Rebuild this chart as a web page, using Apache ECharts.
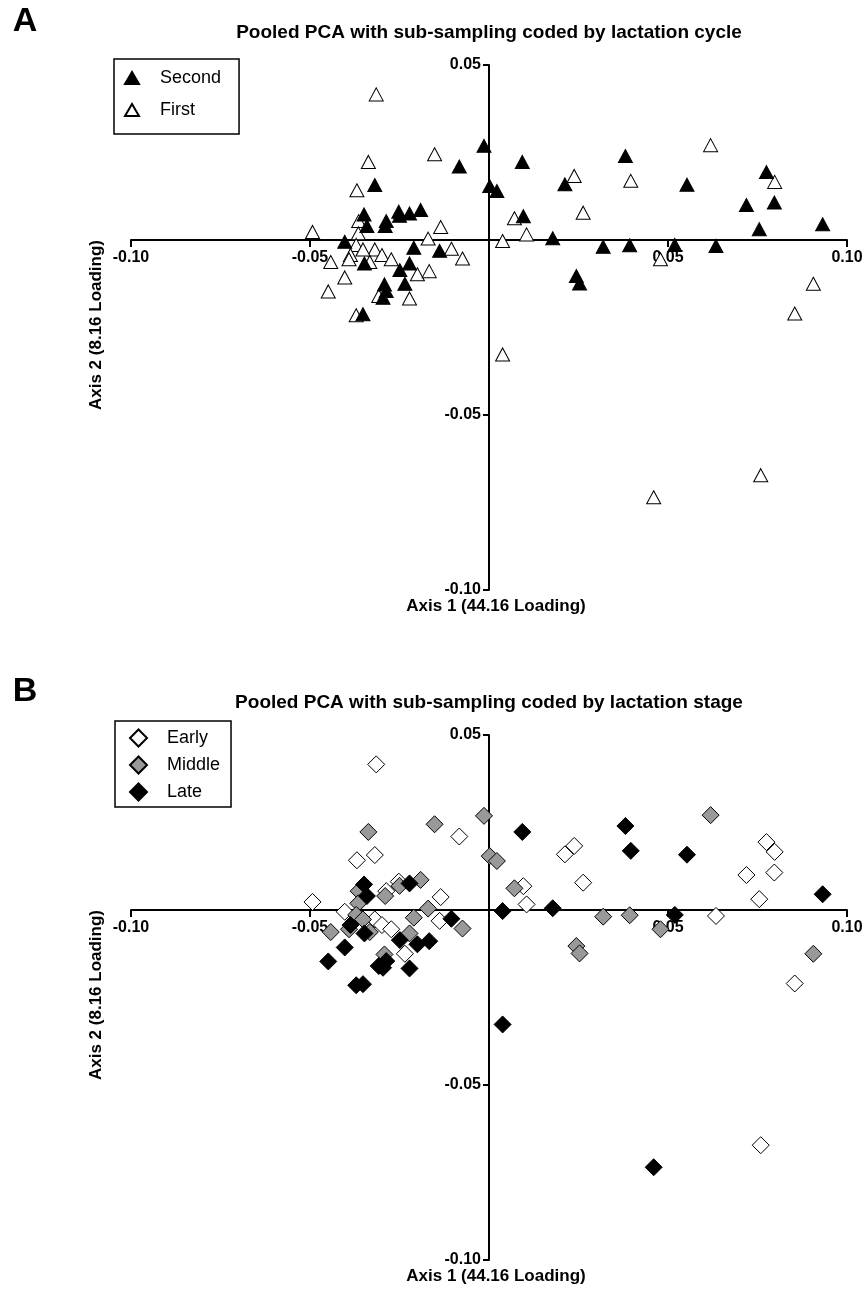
<!DOCTYPE html>
<html>
<head>
<meta charset="utf-8">
<script src="https://cdn.jsdelivr.net/npm/echarts@6/dist/echarts.min.js"></script>
<style>html,body{margin:0;padding:0;background:#fff}#main{width:867px;height:1297px}</style>
</head>
<body>
<div id="main"></div>
<script>
// PCA scores, same samples in both panels
var pcX = [-0.0315,-0.0337,-0.0152,-0.0014,-0.0083,-0.0319,-0.0369,0.0002,0.0022,-0.0349,
  -0.0364,-0.0341,-0.0287,-0.0290,-0.0250,-0.0252,-0.0222,-0.0191,-0.0135,-0.0493,
  -0.0403,-0.0365,-0.0371,-0.0170,-0.0319,-0.0352,-0.0210,-0.0138,-0.0105,-0.0387,
  -0.0391,-0.0442,-0.0299,-0.0273,-0.0074,-0.0348,-0.0333,-0.0222,-0.0249,-0.0200,
  -0.0167,-0.0403,-0.0235,-0.0292,-0.0287,-0.0296,-0.0308,-0.0449,-0.0222,-0.0371,
  -0.0352,0.0093,0.0381,0.0238,0.0212,0.0396,0.0553,0.0071,0.0096,0.0263,
  0.0038,0.0105,0.0178,0.0319,0.0393,0.0519,0.0479,0.0244,0.0253,0.0619,
  0.0775,0.0798,0.0719,0.0797,0.0755,0.0932,0.0634,0.0906,0.0854,0.0038,
  0.0460,0.0759];
var pcY = [0.0416,0.0223,0.0245,0.0269,0.0210,0.0157,0.0142,0.0154,0.0140,0.0073,
  0.0054,0.0040,0.0054,0.0040,0.0069,0.0081,0.0076,0.0086,0.0037,0.0023,
  -0.0005,0.0019,-0.0014,0.0004,-0.0027,-0.0027,-0.0022,-0.0031,-0.0025,-0.0043,
  -0.0055,-0.0063,-0.0043,-0.0055,-0.0053,-0.0067,-0.0063,-0.0067,-0.0086,-0.0098,
  -0.0089,-0.0107,-0.0125,-0.0127,-0.0146,-0.0165,-0.0160,-0.0147,-0.0167,-0.0215,
  -0.0212,0.0223,0.0240,0.0183,0.0159,0.0169,0.0158,0.0062,0.0068,0.0078,
  -0.0003,0.0016,0.0005,-0.0019,-0.0015,-0.0014,-0.0055,-0.0103,-0.0124,0.0271,
  0.0194,0.0166,0.0100,0.0107,0.0031,0.0045,-0.0017,-0.0125,-0.0210,-0.0327,
  -0.0735,-0.0672];
// lactation cycle: S = second, F = first
var cycle = ['F','F','F','S','S','S','F','S','S','S',
  'F','S','S','S','S','S','S','S','F','F',
  'S','F','F','F','F','F','S','S','F','F',
  'F','F','F','F','F','S','F','S','S','F',
  'F','F','S','S','S','S','F','F','F','F',
  'S','S','S','F','S','F','S','F','S','F',
  'F','F','S','S','S','S','F','S','S','F',
  'S','F','S','S','S','S','S','F','F','F',
  'F','F'];
// lactation stage: E = early, M = middle, L = late
var stage = ['E','M','M','M','E','E','E','M','M','L',
  'M','L','E','M','M','E','L','M','E','E',
  'E','M','M','M','E','M','M','E','L','L',
  'M','M','E','E','M','L','M','M','L','L',
  'L','L','E','M','L','L','L','L','L','L',
  'L','L','L','E','E','L','L','M','E','E',
  'L','E','L','M','M','L','M','M','M','M',
  'E','E','E','E','E','L','E','M','E','L',
  'L','E'];

var FONT = '"Liberation Sans", Arial, sans-serif';

function pick(codes, code) {
  var out = [];
  for (var i = 0; i < codes.length; i++) {
    if (codes[i] === code) out.push([pcX[i], pcY[i]]);
  }
  return out;
}

function tickFmt(v) {
  return Math.abs(v) < 1e-9 ? '' : v.toFixed(2);
}

// axes cross at the origin: shift them in from the grid edge
function xAx(g) {
  return {
    gridIndex: g, type: 'value', min: -0.1, max: 0.1, interval: 0.05,
    position: 'bottom', offset: -350,
    axisLine: { onZero: false, lineStyle: { color: '#000', width: 2 } },
    axisTick: { length: 7, lineStyle: { color: '#000', width: 2 } },
    axisLabel: { formatter: tickFmt, color: '#000', fontWeight: 'bold', fontSize: 16, fontFamily: FONT, margin: 10 },
    splitLine: { show: false }
  };
}
function yAx(g) {
  return {
    gridIndex: g, type: 'value', min: -0.1, max: 0.05, interval: 0.05,
    position: 'left', offset: -358,
    axisLine: { onZero: false, lineStyle: { color: '#000', width: 2 } },
    axisTick: { length: 6, lineStyle: { color: '#000', width: 2 } },
    axisLabel: { formatter: tickFmt, color: '#000', fontWeight: 'bold', fontSize: 16, fontFamily: FONT, margin: 8 },
    splitLine: { show: false }
  };
}

function txt(x, y, s, font, rot) {
  return {
    type: 'text', x: x, y: y, rotation: rot || 0,
    style: { text: s, x: 0, y: 0, font: font, fill: '#000', textAlign: 'center', textVerticalAlign: 'middle', verticalAlign: 'middle' }
  };
}

var dom = document.getElementById('main');
var myChart = echarts.init(dom, null, { renderer: 'canvas' });

var option = {
  animation: false,
  backgroundColor: '#fff',
  grid: [
    { left: 131, top: 65, width: 716, height: 525, outerBoundsMode: 'none', containLabel: false },
    { left: 131, top: 735, width: 716, height: 525, outerBoundsMode: 'none', containLabel: false }
  ],
  xAxis: [xAx(0), xAx(1)],
  yAxis: [yAx(0), yAx(1)],
  legend: [
    {
      data: ['Second', 'First'], orient: 'vertical', left: 114, top: 59,
      padding: [9, 18, 14, 10], itemGap: 12, itemWidth: 14, itemHeight: 12,
      borderColor: '#000', borderWidth: 1.5, selectedMode: false,
      textStyle: { fontSize: 18, fontFamily: FONT, color: '#000', lineHeight: 20, padding: [0, 0, 0, 16] }
    },
    {
      data: ['Early', 'Middle', 'Late'], orient: 'vertical', left: 115, top: 721,
      padding: [7, 11, 5, 14], itemGap: 7, itemWidth: 17, itemHeight: 17,
      borderColor: '#000', borderWidth: 1.5, selectedMode: false,
      textStyle: { fontSize: 18, fontFamily: FONT, color: '#000', lineHeight: 20, padding: [0, 0, 0, 15] }
    }
  ],
  graphic: [
    txt(25, 22, 'A', 'bold 34px ' + FONT),
    txt(489, 33, 'Pooled PCA with sub-sampling coded by lactation cycle', 'bold 19px ' + FONT),
    txt(96, 325, 'Axis 2 (8.16 Loading)', 'bold 17px ' + FONT, Math.PI / 2),
    txt(496, 606, 'Axis 1 (44.16 Loading)', 'bold 17px ' + FONT),
    txt(25, 692, 'B', 'bold 34px ' + FONT),
    txt(489, 703, 'Pooled PCA with sub-sampling coded by lactation stage', 'bold 19px ' + FONT),
    txt(96, 995, 'Axis 2 (8.16 Loading)', 'bold 17px ' + FONT, Math.PI / 2),
    txt(496, 1276, 'Axis 1 (44.16 Loading)', 'bold 17px ' + FONT)
  ],
  series: [
    { name: 'First', type: 'scatter', xAxisIndex: 0, yAxisIndex: 0, symbol: 'triangle', symbolSize: [14, 13],
      itemStyle: { color: '#fff', borderColor: '#000', borderWidth: 1, opacity: 1 }, data: pick(cycle, 'F') },
    { name: 'Second', type: 'scatter', xAxisIndex: 0, yAxisIndex: 0, symbol: 'triangle', symbolSize: [14, 13],
      itemStyle: { color: '#000', borderColor: '#000', borderWidth: 1, opacity: 1 }, data: pick(cycle, 'S') },
    { name: 'Early', type: 'scatter', xAxisIndex: 1, yAxisIndex: 1, symbol: 'diamond', symbolSize: [17, 17],
      itemStyle: { color: '#fff', borderColor: '#000', borderWidth: 1, opacity: 1 }, data: pick(stage, 'E') },
    { name: 'Middle', type: 'scatter', xAxisIndex: 1, yAxisIndex: 1, symbol: 'diamond', symbolSize: [17, 17],
      itemStyle: { color: '#999999', borderColor: '#000', borderWidth: 1, opacity: 1 }, data: pick(stage, 'M') },
    { name: 'Late', type: 'scatter', xAxisIndex: 1, yAxisIndex: 1, symbol: 'diamond', symbolSize: [17, 17],
      itemStyle: { color: '#000', borderColor: '#000', borderWidth: 1, opacity: 1 }, data: pick(stage, 'L') }
  ]
};

if (option && typeof option === 'object') {
  myChart.setOption(option, true);
}
</script>
</body>
</html>
